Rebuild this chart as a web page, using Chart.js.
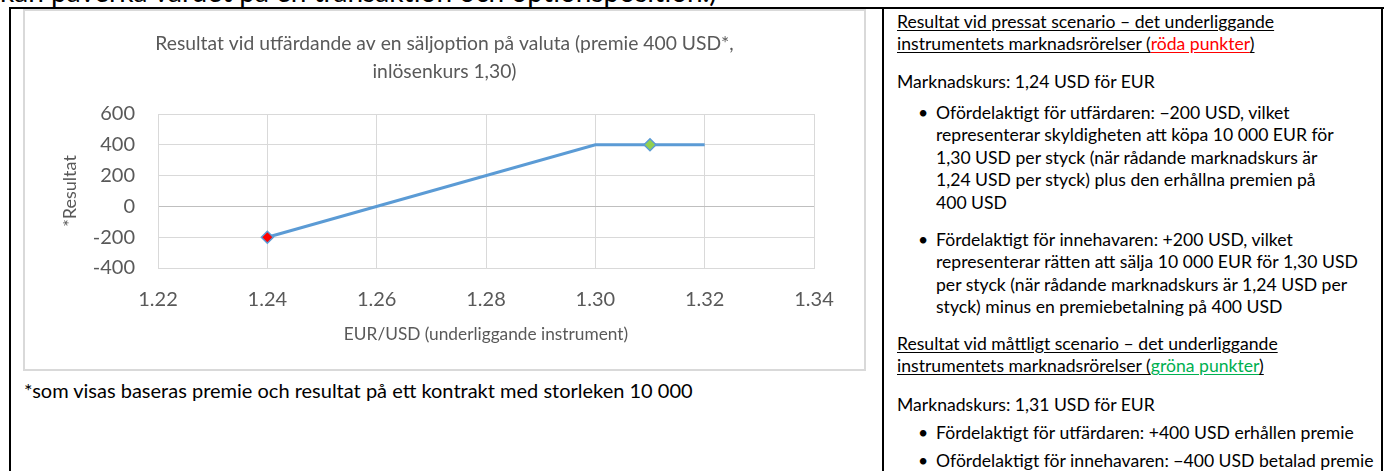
<!DOCTYPE html>
<html>
<head>
<meta charset="utf-8">
<script src="https://cdn.jsdelivr.net/npm/chart.js@4.4.1/dist/chart.umd.min.js"></script>
<style>
  body { margin: 0; width: 1385px; height: 471px; overflow: hidden; background: #fff; position: relative; font-family: Lato, "Open Sans", sans-serif; color: #000; }
  .ln { position: absolute; background: #000; }
  .cut { position: absolute; left: 0; top: -23px; font-size: 28px; line-height: 28px; white-space: nowrap; }
  #box { position: absolute; left: 23px; top: 9px; width: 843px; height: 362px; border: 2px solid #d9d9d9; box-sizing: border-box; }
  #chart { position: absolute; left: 0; top: 0; }
  .note { position: absolute; left: 24px; top: 378px; font-size: 20px; line-height: 24px; white-space: nowrap; }
  .rc { position: absolute; left: 897px; font-size: 17.6px; line-height: 22.6px; white-space: nowrap; }
  .li { position: absolute; left: 936px; font-size: 17.6px; line-height: 22.6px; white-space: nowrap; }
  .li::before { content: "\2022"; position: absolute; left: -18px; top: 0; }
  u { text-underline-offset: 2px; }
  .red { color: #ff0000; }
  .green { color: #00b050; }
</style>
</head>
<body>
<div class="cut">kan påverka värdet på en transaktion och optionsposition.)</div>

<div class="ln" style="left:9px; top:7px; width:1375px; height:2px"></div>
<div class="ln" style="left:9px; top:7px; width:2px; height:470px"></div>
<div class="ln" style="left:882px; top:7px; width:2px; height:470px"></div>
<div class="ln" style="left:1381px; top:7px; width:2px; height:470px"></div>

<div id="box"><canvas id="chart" width="839" height="358" style="width:839px;height:358px"></canvas></div>
<div class="note">*som visas baseras premie och resultat på ett kontrakt med storleken 10 000</div>

<div class="rc" style="top:10.7px"><u>Resultat vid pressat scenario – det underliggande</u><br><u>instrumentets marknadsrörelser (</u><u class="red">röda punkter</u><u>)</u></div>
<div class="rc" style="top:70.7px">Marknadskurs: 1,24 USD för EUR</div>
<div class="li" style="top:101.7px">Ofördelaktigt för utfärdaren: −200 USD, vilket<br>representerar skyldigheten att köpa 10 000 EUR för<br>1,30 USD per styck (när rådande marknadskurs är<br>1,24 USD per styck) plus den erhållna premien på<br>400 USD</div>
<div class="li" style="top:228.7px">Fördelaktigt för innehavaren: +200 USD, vilket<br>representerar rätten att sälja 10 000 EUR för 1,30 USD<br>per styck (när rådande marknadskurs är 1,24 USD per<br>styck) minus en premiebetalning på 400 USD</div>
<div class="rc" style="top:332.7px"><u>Resultat vid måttligt scenario – det underliggande</u><br><u>instrumentets marknadsrörelser (</u><u class="green">gröna punkter</u><u>)</u></div>
<div class="rc" style="top:393.7px">Marknadskurs: 1,31 USD för EUR</div>
<div class="li" style="top:421.7px">Fördelaktigt för utfärdaren: +400 USD erhållen premie</div>
<div class="li" style="top:449.7px">Ofördelaktigt för innehavaren: −400 USD betalad premie</div>

<script>
// tick values
const xTicks = [1.22, 1.24, 1.26, 1.28, 1.30, 1.32, 1.34];
const yTicks = [-400, -200, 0, 200, 400, 600];

// payoff line for the writer of the put (corners of the line)
const payoffX = [1.24, 1.30, 1.32];
const payoffY = [-200, 400, 400];

// scenario markers (red = pressat, green = måttligt)
const scenarioX = [1.24, 1.31];
const scenarioY = [-200, 400];
const scenarioColors = ['#ff0000', '#92d050'];

Chart.defaults.font.family = 'Lato, "Open Sans", sans-serif';

const gray = '#595959';
const gridGray = '#d9d9d9';

const config = {
    type: 'scatter',
    data: {
        datasets: [
            {
                label: 'Scenarier',
                data: scenarioX.map((x, i) => ({ x: x, y: scenarioY[i] })),
                pointStyle: 'rectRot',
                pointRadius: 6,
                backgroundColor: scenarioColors,
                borderColor: '#5b9bd5',
                borderWidth: 1.5,
                order: 0
            },
            {
                label: 'Resultat',
                data: payoffX.map((x, i) => ({ x: x, y: payoffY[i] })),
                showLine: true,
                borderColor: '#5b9bd5',
                borderWidth: 3,
                pointRadius: 0,
                order: 1
            }
        ]
    },
    options: {
        responsive: false,
        animation: false,
        devicePixelRatio: 1,
        layout: { padding: 0 },
        plugins: {
            legend: { display: false },
            tooltip: { enabled: false },
            title: {
                display: true,
                text: ['Resultat vid utfärdande av en säljoption på valuta (premie 400 USD*,', 'inlösenkurs 1,30)'],
                color: gray,
                font: { size: 19.3, weight: 'normal', lineHeight: '28px' },
                padding: { top: 19, bottom: 28 }
            }
        },
        scales: {
            x: {
                type: 'linear',
                min: 1.22,
                max: 1.34,
                afterBuildTicks: (scale) => { scale.ticks = xTicks.map(v => ({ value: v })); },
                afterFit: (scale) => { scale.height = 101; },
                grid: { color: gridGray, lineWidth: 1, drawTicks: false },
                border: { color: gridGray },
                ticks: {
                    color: gray,
                    font: { size: 20 },
                    padding: 20,
                    callback: (v) => Number(v).toFixed(2)
                },
                title: {
                    display: true,
                    text: 'EUR/USD (underliggande instrument)',
                    color: gray,
                    font: { size: 17.3 },
                    padding: { top: 0, bottom: 24 }
                }
            },
            y: {
                type: 'linear',
                min: -400,
                max: 600,
                afterBuildTicks: (scale) => { scale.ticks = yTicks.map(v => ({ value: v })); },
                afterFit: (scale) => { scale.width = 133; },
                grid: {
                    color: (ctx) => (ctx.tick && ctx.tick.value === 0 ? '#bfbfbf' : gridGray),
                    lineWidth: 1,
                    drawTicks: false
                },
                border: { color: gridGray },
                ticks: { color: gray, font: { size: 20 }, padding: 23 },
                title: {
                    display: true,
                    text: '*Resultat',
                    color: gray,
                    font: { size: 18 },
                    padding: { top: 34, bottom: 0 }
                }
            },
            // empty right-hand space, keeps the title centred on the whole chart box
            yRight: {
                type: 'linear',
                position: 'right',
                min: -400,
                max: 600,
                grid: { display: false, drawTicks: false },
                border: { display: false },
                ticks: { display: false },
                afterFit: (scale) => { scale.width = 50; }
            }
        }
    }
};

new Chart(document.getElementById('chart').getContext('2d'), config);
</script>
</body>
</html>
